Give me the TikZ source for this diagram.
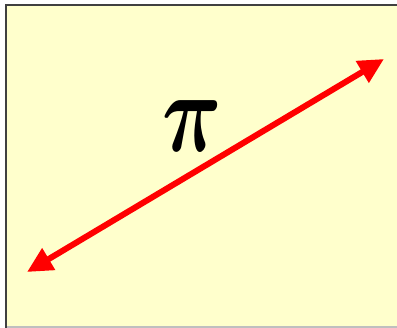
\RequirePackage{fix-cm}
\documentclass[tikz,border=0pt]{standalone}
\usepackage{amsmath}
\usetikzlibrary{arrows.meta}
\definecolor{paper}{RGB}{255,255,204}
\definecolor{frame}{RGB}{64,64,64}
\definecolor{arrowred}{RGB}{255,0,0}

\begin{document}
\begin{tikzpicture}[x=0.75pt, y=-0.75pt,
      sym/.style={font=\fontsize{86}{86}\selectfont\boldmath, inner sep=0pt},
      link/.style={draw=arrowred, line width=4.5pt,
                   {Triangle[length=19pt, width=18pt]}-{Triangle[length=19pt, width=18pt]}}]
    \useasboundingbox (0,0) rectangle (397,328);
    \fill[paper] (6,5) rectangle (397,327);
    \draw[black!25, line width=1pt] (6,327) -- (397,327);
    \draw[frame, line width=1.8pt] (6,328) -- (6,5) -- (397,5);
    \coordinate (lo) at (27,272);
    \coordinate (hi) at (384,59);
    \node[sym] (pi) at (192,126) {\scalebox{0.72}[1]{$\pi$}};
    \path[link] (lo) -- (hi);
  \end{tikzpicture}
\end{document}
